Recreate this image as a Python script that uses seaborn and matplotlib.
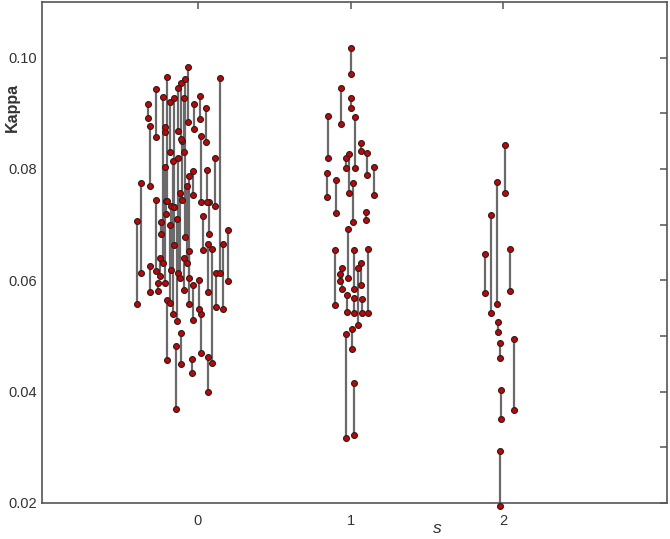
import numpy as np
import pandas as pd
import matplotlib
matplotlib.use("Agg")
import matplotlib.pyplot as plt
import seaborn as sns

# s = 0 : jittered position, upper and lower kappa of each pair
s0_x = [-0.399, -0.371, -0.327, -0.316, -0.273, -0.314, -0.274, -0.251, -0.263, -0.240,
        -0.229, -0.216, -0.214, -0.199, -0.201, -0.181, -0.175, -0.163, -0.153, -0.142,
        -0.137, -0.133, -0.127, -0.120, -0.112, -0.108, -0.094, -0.083, -0.072, -0.067,
        -0.057, -0.061, -0.037, -0.033, -0.029, -0.025, 0.013, 0.008, 0.020, 0.022,
        0.033, 0.054, 0.063, 0.075, 0.067, 0.064, 0.095, 0.114, 0.116, 0.146,
        0.165, 0.200, -0.207, -0.158, -0.090, -0.185, -0.104]
s0_hi = [0.0706, 0.0774, 0.0916, 0.0878, 0.0943, 0.0625, 0.0744, 0.0640, 0.0595, 0.0704,
         0.0930, 0.0876, 0.0803, 0.0966, 0.0564, 0.0921, 0.0733, 0.0814, 0.0927, 0.0482,
         0.0711, 0.0946, 0.0819, 0.0756, 0.0955, 0.0505, 0.0928, 0.0962, 0.0769, 0.0984,
         0.0788, 0.0652, 0.0458, 0.0591, 0.0797, 0.0916, 0.0932, 0.0600, 0.0860, 0.0539,
         0.0715, 0.0910, 0.0799, 0.0740, 0.0666, 0.0462, 0.0656, 0.0819, 0.0614, 0.0964,
         0.0666, 0.0690, 0.0742, 0.0731, 0.0641, 0.0700, 0.0851]
s0_lo = [0.0557, 0.0613, 0.0892, 0.0770, 0.0858, 0.0579, 0.0616, 0.0607, 0.0580, 0.0683,
         0.0631, 0.0866, 0.0595, 0.0742, 0.0457, 0.0831, 0.0618, 0.0539, 0.0731, 0.0369,
         0.0527, 0.0869, 0.0614, 0.0604, 0.0853, 0.0449, 0.0830, 0.0677, 0.0632, 0.0885,
         0.0557, 0.0604, 0.0433, 0.0528, 0.0754, 0.0871, 0.0889, 0.0548, 0.0740, 0.0469,
         0.0654, 0.0848, 0.0740, 0.0684, 0.0579, 0.0399, 0.0451, 0.0733, 0.0552, 0.0613,
         0.0548, 0.0598, 0.0720, 0.0663, 0.0582, 0.0560, 0.0744]

# s = 1
s1_x = [1.005, 0.937, 1.000, 0.850, 1.026, 1.069, 1.108, 1.150, 0.992, 0.969,
        0.843, 0.902, 1.012, 1.103, 0.984, 0.895, 1.024, 1.113, 0.943, 0.927,
        1.069, 1.048, 0.976, 1.024, 1.076, 1.010, 0.971, 1.022]
s1_hi = [0.1017, 0.0945, 0.0927, 0.0895, 0.0893, 0.0846, 0.0829, 0.0803, 0.0827, 0.0819,
         0.0793, 0.0780, 0.0775, 0.0723, 0.0693, 0.0654, 0.0654, 0.0656, 0.0623, 0.0612,
         0.0632, 0.0623, 0.0573, 0.0569, 0.0567, 0.0513, 0.0504, 0.0415]
s1_lo = [0.0971, 0.0880, 0.0909, 0.0819, 0.0802, 0.0833, 0.0790, 0.0753, 0.0757, 0.0802,
         0.0750, 0.0721, 0.0705, 0.0709, 0.0605, 0.0556, 0.0585, 0.0542, 0.0585, 0.0598,
         0.0592, 0.0519, 0.0543, 0.0542, 0.0542, 0.0476, 0.0316, 0.0322]

# s = 2
s2_x = [2.012, 1.955, 1.920, 1.880, 2.043, 1.965, 1.976, 2.072, 1.985, 1.976]
s2_hi = [0.0843, 0.0776, 0.0718, 0.0647, 0.0657, 0.0525, 0.0488, 0.0494, 0.0403, 0.0293]
s2_lo = [0.0756, 0.0558, 0.0542, 0.0577, 0.0580, 0.0507, 0.0461, 0.0367, 0.0351, 0.0195]

pairs = pd.DataFrame({
    "x": s0_x + s1_x + s2_x,
    "hi": s0_hi + s1_hi + s2_hi,
    "lo": s0_lo + s1_lo + s2_lo,
})
points = pd.concat([
    pairs[["x", "hi"]].rename(columns={"hi": "kappa"}),
    pairs[["x", "lo"]].rename(columns={"lo": "kappa"}),
], ignore_index=True)

sns.set_style("white")
plt.rcParams["font.family"] = ["Liberation Sans", "DejaVu Sans"]

fig = plt.figure(figsize=(6.7, 5.39), dpi=100)
ax = fig.add_axes([0.0627, 0.0668, 0.9328, 0.9295])

ax.vlines(pairs["x"], pairs["lo"], pairs["hi"], color="#6a6a6a", linewidth=1.6, zorder=2)
sns.scatterplot(data=points, x="x", y="kappa", ax=ax, s=18, color="#cc0000",
                edgecolor="#222222", linewidth=0.8, zorder=3, clip_on=False, legend=False)

ax.set_xlim(-1.02, 3.07)
ax.set_ylim(0.02, 0.11)
ax.set_xticks([0, 1, 2])
ax.set_xticklabels(["0", "1", "2"])
ax.set_yticks([0.02, 0.04, 0.06, 0.08, 0.10])
ax.set_yticklabels(["0.02", "0.04", "0.06", "0.08", "0.10"])
ax.set_yticks(np.arange(0.03, 0.11, 0.02), minor=True)

ax.tick_params(which="both", direction="in", length=5, width=1.1, color="#555555",
               top=True, right=True, labelsize=10.5, labelcolor="#333333")
ax.tick_params(axis="x", pad=8)

for sp in ax.spines.values():
    sp.set_color("#555555")
    sp.set_linewidth(1.2)

ax.set_ylabel("Kappa", fontsize=11.5, fontweight="bold", color="#333333")
ax.yaxis.set_label_coords(-0.036, 0.79)
ax.set_xlabel("s", fontsize=12.5, fontstyle="italic", color="#333333")
ax.xaxis.set_label_coords(0.632, -0.036)

fig.savefig("out.png", dpi=100)
